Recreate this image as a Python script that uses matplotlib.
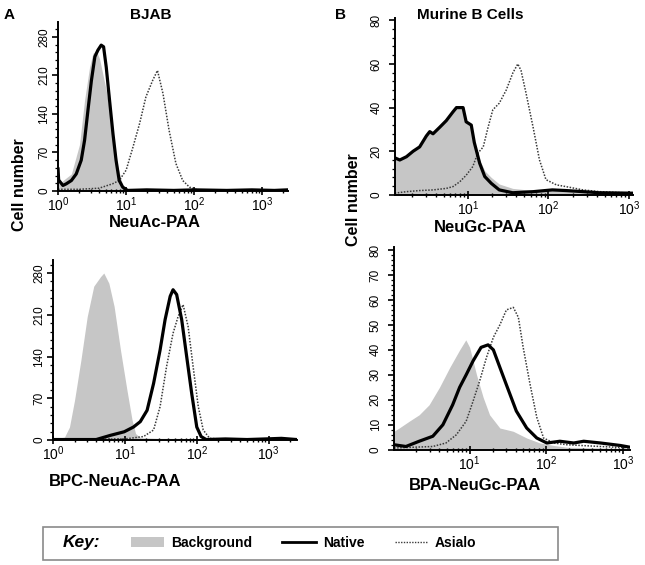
import matplotlib
matplotlib.use('Agg')
import matplotlib.pyplot as plt
from matplotlib.ticker import MultipleLocator, LogLocator, NullFormatter
from matplotlib.lines import Line2D
from matplotlib.patches import Patch, Rectangle

plt.rcParams['font.family'] = ['Liberation Sans', 'DejaVu Sans']
plt.rcParams['mathtext.default'] = 'regular'

GRAY = '#c6c6c6'
DOT = '#3a3a3a'

# ---- A, top: BJAB / NeuAc-PAA ----
a1_bg_x = [1.0, 1.05, 1.18, 1.57, 2.07, 2.45, 2.9, 3.25, 3.64, 4.07, 5.1, 6.4, 7.55, 8.9, 10.5, 20, 100, 2400]
a1_bg_y = [35, 12, 19, 31, 85, 165, 225, 250, 255, 240, 183, 104, 44, 10, 1, 0.5, 0.5, 0.5]
a1_nat_x = [1.0, 1.02, 1.18, 1.32, 1.57, 1.85, 2.19, 2.45, 2.75, 3.09, 3.47, 3.85, 4.3, 4.66, 5.1, 5.7,
            6.4, 7.1, 7.9, 8.9, 10.5, 20, 50, 100, 300, 700, 1500, 2300]
a1_nat_y = [40, 20, 10, 13, 19, 31, 56, 92, 147, 201, 244, 256, 265, 262, 225, 165,
            104, 56, 19, 7, 1, 2, 1, 2, 1, 2, 1, 2]
a1_asi_x = [1.0, 2.0, 4.0, 6.3, 7.9, 10, 12.6, 15.7, 19.5, 24.5, 28.8, 34.7, 42.7, 53.7, 67.6, 85, 117, 2400]
a1_asi_y = [3, 3, 5, 13, 19, 38, 80, 122, 171, 201, 219, 177, 110, 50, 19, 7, 1, 1]

# ---- A, bottom: BJAB / BPC-NeuAc-PAA ----
a2_bg_x = [1.0, 1.45, 1.7, 2.0, 2.45, 3.0, 3.7, 4.6, 5.1, 6.0, 7.1, 8.7, 10.7, 12.6, 14.1, 16.6, 30, 60, 100, 200, 2450]
a2_bg_y = [2, 5, 22, 67, 134, 207, 258, 274, 280, 263, 224, 151, 84, 34, 11, 4, 3, 3, 2, 0.5, 0.5]
a2_nat_x = [1.0, 2, 4, 6.3, 9.8, 13.2, 16.4, 20.4, 25.1, 30.9, 36.3, 42.7, 46.8, 52.5, 61.7, 72.4,
            85.1, 100, 115, 135, 250, 500, 900, 1500, 2450]
a2_nat_y = [1, 1, 1, 8, 14, 22, 31, 50, 95, 151, 202, 241, 252, 244, 202, 140,
            78, 22, 6, 1, 2, 1, 2, 3, 1]
a2_asi_x = [1.0, 10, 18.2, 25.1, 30.9, 38, 46.8, 55, 64.6, 75.9, 89, 105, 123, 151, 300, 2450]
a2_asi_y = [1, 2, 6, 17, 56, 123, 179, 207, 227, 190, 123, 56, 17, 3, 1, 1]

# ---- B, top: Murine B cells / NeuGc-PAA ----
b1_bg_x = [1.23, 1.42, 1.72, 2.08, 2.51, 3.04, 3.35, 3.68, 4.46, 5.37, 6.5, 7.2, 8.7, 9.5, 11, 12,
           14, 16.2, 19.5, 24.5, 36, 65, 112, 166, 270, 430, 1120]
b1_bg_y = [17, 16, 17.5, 20, 22, 27, 29, 28, 31, 34, 38, 40, 40, 33.5, 32, 25,
           16, 11, 8, 5, 3, 2, 2.3, 2, 1.5, 1, 0.8]
b1_nat_x = [1.23, 1.42, 1.72, 2.08, 2.51, 3.04, 3.35, 3.68, 4.46, 5.37, 6.5, 7.2, 8.7, 9.5, 11, 12,
            14, 16.2, 19.5, 24.5, 36, 65, 112, 166, 270, 430, 1120]
b1_nat_y = [17, 16, 17.5, 20, 22, 27, 29, 28, 31, 34, 38, 40, 40, 33.5, 32, 24,
            14.5, 8.4, 5.3, 2.3, 1, 1.5, 2.3, 2, 1.5, 1, 0.8]
b1_asi_x = [1.23, 1.72, 2.5, 3.7, 5.4, 6.5, 7.9, 9.5, 11.5, 13.2, 15.5, 17.8, 20.4, 24.5, 29.9, 36.3,
            41.7, 45.7, 52.5, 64.6, 77.6, 93.3, 126, 166, 270, 430, 1120]
b1_asi_y = [0.8, 1.5, 2, 2.3, 3, 3.8, 6, 9, 13, 19, 22, 31, 39, 42, 48, 56,
            60, 57, 47, 31, 16, 7, 4.6, 3.8, 2.3, 1.5, 0.8]

# ---- B, bottom: Murine B cells / BPA-NeuGc-PAA ----
b2_bg_x = [1.03, 1.2, 1.62, 2.19, 2.95, 4.03, 5.5, 7.4, 8.9, 10, 12.3, 15, 18.2, 24.8, 37, 55.6,
           83, 126, 186, 513, 1250]
b2_bg_y = [7.4, 8.7, 11.4, 14, 18, 25, 33, 40, 44, 41, 30, 21, 14, 8.7, 7.4, 4.7,
           2.7, 1.7, 1, 0.7, 0.4]
b2_nat_x = [1.03, 1.47, 2.19, 3.3, 4.47, 6.0, 7.4, 9.0, 11.1, 14.1, 17.4, 20.4, 24.8, 30.2, 40.7, 55.6,
            75.3, 102, 151, 229, 309, 513, 933, 1250]
b2_nat_y = [2, 1.3, 3.4, 5.4, 10, 18, 25, 30, 35.6, 41, 42, 40, 33, 26, 15.5, 8.7,
            4.7, 2.7, 3.4, 2.7, 3.4, 2.7, 1.7, 1]
b2_asi_x = [1.03, 3.3, 4.9, 6.7, 9.0, 11.1, 13.5, 16.6, 20.4, 24.8, 30.2, 37.2, 43.3, 50, 61.7, 75.3,
            92.3, 126, 186, 513, 1250]
b2_asi_y = [0.7, 1.3, 2.7, 6, 11.4, 19.5, 27.5, 37, 45, 50, 56, 57, 53, 41, 26, 13,
            4.7, 2.7, 2, 1.3, 0.7]


def plot_panel(ax, bg, nat, asi, xlim, ylim, major, minor, ypad=1.5):
    ax.fill_between(bg[0], bg[1], color=GRAY, lw=0, zorder=1)
    ax.plot(asi[0], asi[1], color=DOT, lw=1.1, ls=(0, (1, 1)), zorder=2)
    ax.plot(nat[0], nat[1], color='black', lw=2.3, zorder=3)
    ax.set_xscale('log')
    ax.set_xlim(*xlim)
    ax.set_ylim(*ylim)
    ax.xaxis.set_major_locator(LogLocator(base=10))
    ax.xaxis.set_minor_locator(LogLocator(base=10, subs=range(2, 10)))
    ax.xaxis.set_minor_formatter(NullFormatter())
    ax.yaxis.set_major_locator(MultipleLocator(major))
    ax.yaxis.set_minor_locator(MultipleLocator(minor))
    for s in ['top', 'right']:
        ax.spines[s].set_visible(False)
    for s in ['left', 'bottom']:
        ax.spines[s].set_linewidth(1.4)
        ax.spines[s].set_zorder(5)
    ax.tick_params(axis='x', which='major', direction='inout', length=6, width=1.2, labelsize=10, pad=0)
    ax.tick_params(axis='x', which='minor', direction='inout', length=3.5, width=1)
    ax.tick_params(axis='y', which='major', direction='out', length=4, width=1.2, labelsize=8.5,
                   labelrotation=90, pad=ypad)
    ax.tick_params(axis='y', which='minor', direction='out', length=2.5, width=0.9)
    for t in ax.get_yticklabels():
        t.set_va('center')


fig = plt.figure(figsize=(6.45, 5.65), dpi=100)

ax1 = fig.add_axes([0.090, 0.662, 0.357, 0.299])
plot_panel(ax1, (a1_bg_x, a1_bg_y), (a1_nat_x, a1_nat_y), (a1_asi_x, a1_asi_y),
           (1, 2400), (0, 307), 70, 14)

ax2 = fig.add_axes([0.082, 0.221, 0.378, 0.319])
plot_panel(ax2, (a2_bg_x, a2_bg_y), (a2_nat_x, a2_nat_y), (a2_asi_x, a2_asi_y),
           (1, 2450), (0, 302), 70, 14)

ax3 = fig.add_axes([0.612, 0.655, 0.369, 0.313])
plot_panel(ax3, (b1_bg_x, b1_bg_y), (b1_nat_x, b1_nat_y), (b1_asi_x, b1_asi_y),
           (1.23, 1120), (0, 81), 20, 4, ypad=5)

ax4 = fig.add_axes([0.611, 0.204, 0.366, 0.358])
plot_panel(ax4, (b2_bg_x, b2_bg_y), (b2_nat_x, b2_nat_y), (b2_asi_x, b2_asi_y),
           (1.03, 1250), (0, 81), 10, 2, ypad=5)

# panel letters, titles and axis labels
fig.text(0.006, 0.973, 'A', fontsize=11, fontweight='bold', va='center')
fig.text(0.233, 0.973, 'BJAB', fontsize=11, fontweight='bold', ha='center', va='center')
fig.text(0.519, 0.973, 'B', fontsize=11, fontweight='bold', va='center')
fig.text(0.729, 0.973, 'Murine B Cells', fontsize=11, fontweight='bold', ha='center', va='center')

fig.text(0.030, 1 - 185 / 565, 'Cell number', fontsize=11.5, fontweight='bold', rotation=90,
         ha='center', va='center')
fig.text(0.548, 1 - 200 / 565, 'Cell number', fontsize=11.5, fontweight='bold', rotation=90,
         ha='center', va='center')

fig.text(0.240, 1 - 222 / 565, 'NeuAc-PAA', fontsize=12, fontweight='bold', ha='center', va='center')
fig.text(0.178, 1 - 481 / 565, 'BPC-NeuAc-PAA', fontsize=12, fontweight='bold', ha='center', va='center')
fig.text(0.744, 1 - 228 / 565, 'NeuGc-PAA', fontsize=12, fontweight='bold', ha='center', va='center')
fig.text(0.736, 1 - 486 / 565, 'BPA-NeuGc-PAA', fontsize=12, fontweight='bold', ha='center', va='center')

# key box
fig.add_artist(Rectangle((43 / 645, 1 - 560 / 565), 515 / 645, 33 / 565, transform=fig.transFigure,
                         fill=False, edgecolor='#8a8a8a', lw=1.2))
fig.text(63 / 645, 1 - 543 / 565, 'Key:', fontsize=12.5, fontweight='bold', style='italic', va='center')
handles = [Patch(facecolor=GRAY, edgecolor='none'),
           Line2D([], [], color='black', lw=2),
           Line2D([], [], color=DOT, lw=1, ls=(0, (1, 1)))]
leg = fig.legend(handles, ['Background', 'Native', 'Asialo'], loc='center left',
                 bbox_to_anchor=(118 / 645, 1 - 543 / 565), ncol=3, frameon=False,
                 prop={'weight': 'bold', 'size': 10}, handlelength=2.4, handletextpad=0.5,
                 columnspacing=2.2)

fig.savefig('out.png', dpi=100)
